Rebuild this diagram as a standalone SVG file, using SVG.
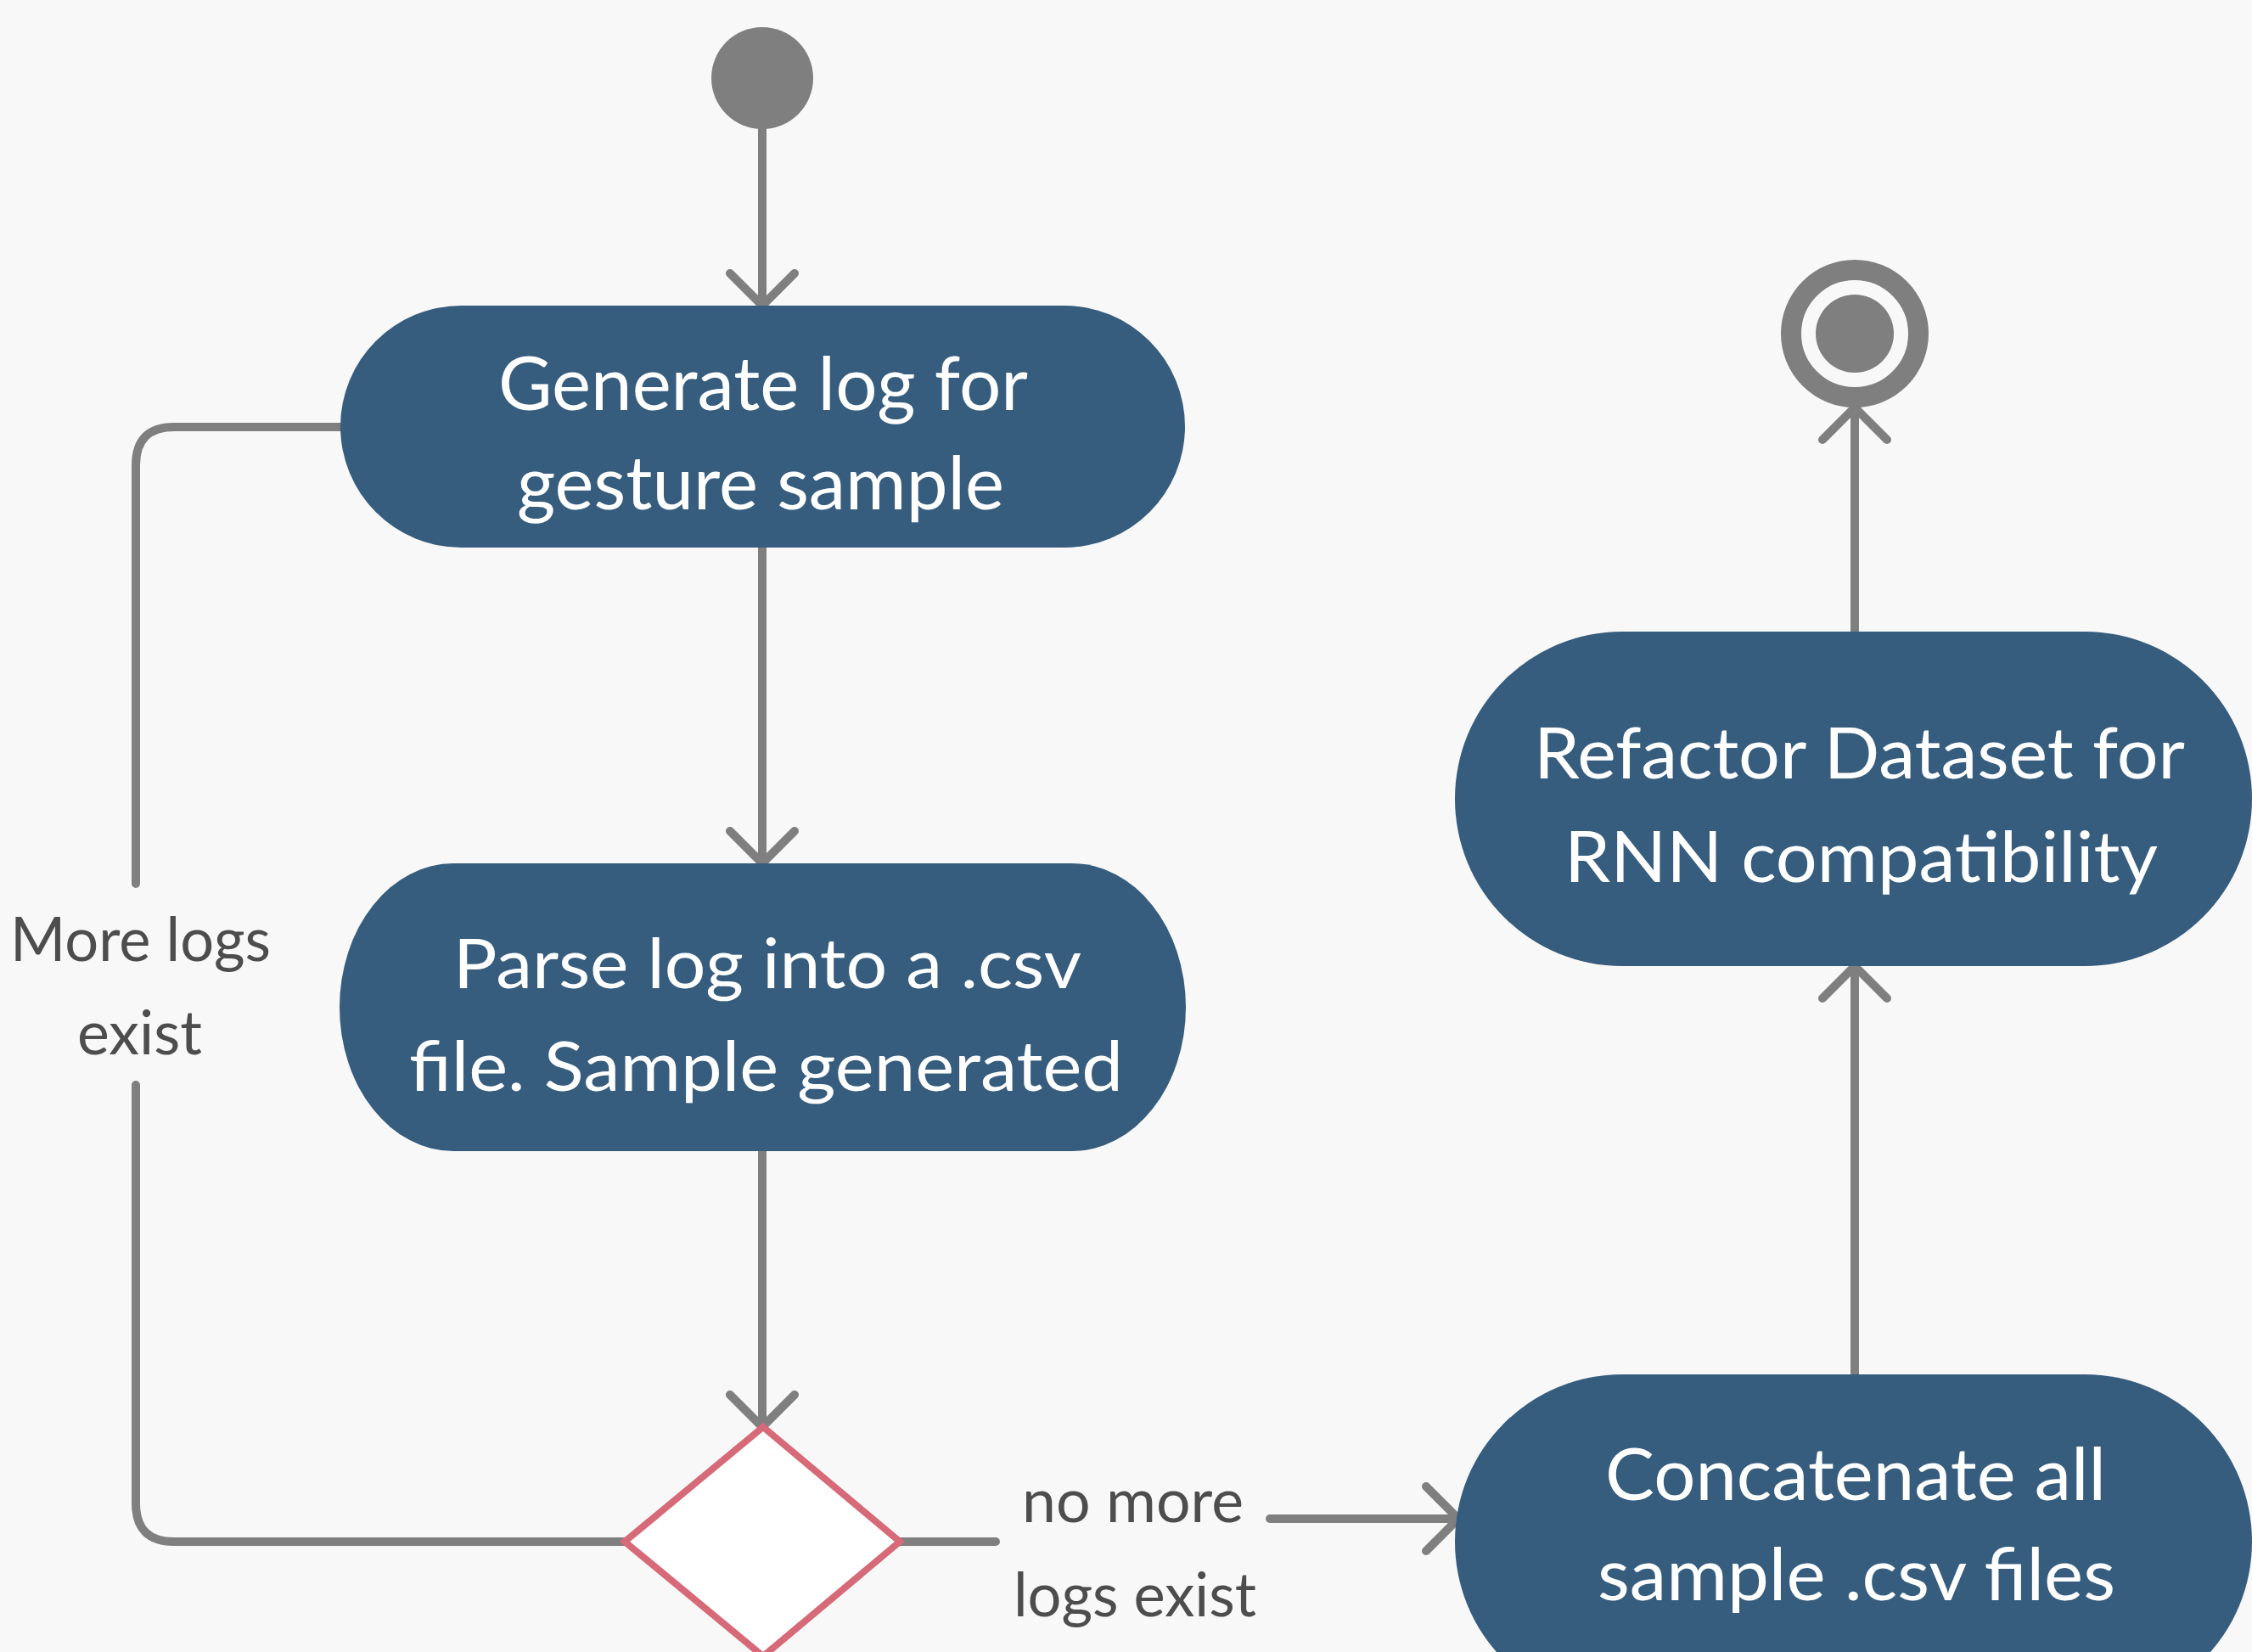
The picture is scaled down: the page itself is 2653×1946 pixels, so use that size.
<svg xmlns="http://www.w3.org/2000/svg" width="2653" height="1946" viewBox="0 0 2653 1946">
<defs>
<style>
.node{fill:#365c7e;}
.nt{font-family:Lato,"Liberation Sans",sans-serif;fill:#ffffff;}
.lbl{font-family:Lato,"Liberation Sans",sans-serif;fill:#4d4d4d;font-size:72px;}
.conn{fill:none;stroke:#7f7f7f;stroke-width:10;stroke-linecap:round;stroke-linejoin:round;}
</style>
<marker id="arr" viewBox="-50 -50 100 100" refX="0" refY="0" markerWidth="100" markerHeight="100" markerUnits="userSpaceOnUse" orient="auto">
<path d="M -38 -38 L 0 0 L -38 38" fill="none" stroke="#7f7f7f" stroke-width="10" stroke-linecap="round" stroke-linejoin="round"/>
</marker>
</defs>
<rect x="0" y="0" width="2653" height="1946" fill="#f8f8f8"/>

<g id="connectors">
<path class="conn" d="M 898 150 V 360" marker-end="url(#arr)"/>
<path class="conn" d="M 898 645 V 1017" marker-end="url(#arr)"/>
<path class="conn" d="M 898 1356 V 1681" marker-end="url(#arr)"/>
<path class="conn" d="M 736 1816 H 205 Q 160 1816 160 1771 V 1278" stroke-linecap="butt"/>
<path class="conn" d="M 160 1041 V 548 Q 160 503 205 503 H 401" stroke-linecap="butt"/>
<path class="conn" d="M 1060 1816 H 1173" stroke-linecap="butt"/>
<path class="conn" d="M 1496 1789 H 1718" stroke-linecap="butt" marker-end="url(#arr)"/>
<path class="conn" d="M 2185 1619 V 1138" marker-end="url(#arr)"/>
<path class="conn" d="M 2185 744 V 480" marker-end="url(#arr)"/>
<text class="lbl" x="12" y="1132" textLength="307" lengthAdjust="spacingAndGlyphs">More logs</text>
<text class="lbl" x="91" y="1242" textLength="147" lengthAdjust="spacingAndGlyphs">exist</text>
<text class="lbl" x="1204" y="1793" textLength="261" lengthAdjust="spacingAndGlyphs">no more</text>
<text class="lbl" x="1194" y="1904" textLength="286" lengthAdjust="spacingAndGlyphs">logs exist</text>
</g>

<g id="start">
<circle cx="898" cy="92" r="60" fill="#7f7f7f"/>
</g>

<g id="end">
<circle cx="2185" cy="393" r="75" fill="none" stroke="#7f7f7f" stroke-width="24"/>
<circle cx="2185" cy="393" r="46" fill="#7f7f7f"/>
</g>

<g id="generate-log">
<rect class="node" x="401" y="360" width="995" height="285" rx="142.5" ry="142.5"/>
<text class="nt" font-size="88" x="587" y="483" textLength="624" lengthAdjust="spacingAndGlyphs">Generate log for</text>
<text class="nt" font-size="88" x="609" y="600" textLength="574" lengthAdjust="spacingAndGlyphs">gesture sample</text>
</g>

<g id="parse-log">
<rect class="node" x="400" y="1017" width="997" height="339" rx="134" ry="169.5"/>
<text class="nt" font-size="82" x="534" y="1164" textLength="740" lengthAdjust="spacingAndGlyphs">Parse log into a .csv</text>
<text class="nt" font-size="82" x="482" y="1285" textLength="841" lengthAdjust="spacingAndGlyphs">file. Sample generated</text>
</g>

<g id="decision">
<polygon points="899,1681 1060,1816 899,1951 736,1816" fill="#ffffff" stroke="#d76a78" stroke-width="8"/>
</g>

<g id="refactor">
<rect class="node" x="1714" y="744" width="939" height="394" rx="197" ry="197"/>
<text class="nt" font-size="84" x="1807" y="917" textLength="767" lengthAdjust="spacingAndGlyphs">Refactor Dataset for</text>
<text class="nt" font-size="84" x="1843" y="1039" textLength="699" lengthAdjust="spacingAndGlyphs">RNN compatibility</text>
</g>

<g id="concatenate">
<rect class="node" x="1714" y="1619" width="939" height="394" rx="197" ry="197"/>
<text class="nt" font-size="86" x="1891" y="1767" textLength="590" lengthAdjust="spacingAndGlyphs">Concatenate all</text>
<text class="nt" font-size="86" x="1882" y="1885" textLength="610" lengthAdjust="spacingAndGlyphs">sample .csv files</text>
</g>
</svg>
